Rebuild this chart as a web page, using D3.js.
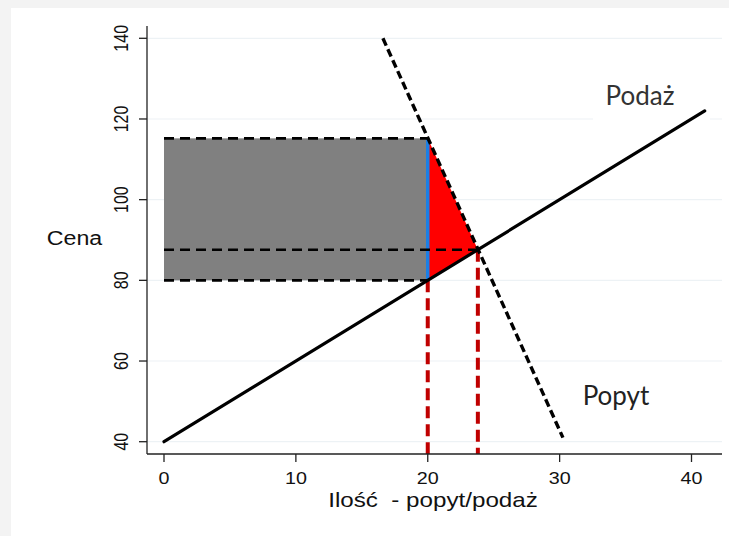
<!DOCTYPE html>
<html><head><meta charset="utf-8">
<script src="https://cdn.jsdelivr.net/npm/d3@7"></script>
<style>
html,body{margin:0;padding:0;background:#f3f3f3;}
svg{display:block;}
text{white-space:pre;}
</style></head>
<body>
<svg id="c" width="729" height="536"></svg>
<script>
// ---- data ----
const xTicks = [0, 10, 20, 30, 40];
const yTicks = [40, 60, 80, 100, 120, 140];
const supplyPts = [[0, 40], [41, 122]];          // Podaż
const demandPts = [[16.6, 140], [30.25, 41]];    // Popyt
const rectQ = [0, 20];
const rectP = [80, 115.2];
const eqQ = 23.8, eqP = 87.6;
const triangle = [[20, 115.2], [23.8, 87.6], [20, 80]];
const labels = {x: "Ilość  - popyt/podaż", y: "Cena", supply: "Podaż", demand: "Popyt"};

const svg = d3.select("#c");
svg.append("rect").attr("x", 11).attr("y", 8).attr("width", 729).attr("height", 536).attr("fill", "#fff");

const x = d3.scaleLinear().domain([0, 40]).range([164, 691.5]);
const y = d3.scaleLinear().domain([40, 140]).range([441.7, 38.3]);
const xL = 147, xR = 722, yT = 26, yB = 454;
const SX = 1.16; // horizontal stretch of the original picture's text

// gridlines
svg.append("g").selectAll("line").data(yTicks).join("line")
  .attr("x1", xL).attr("x2", xR).attr("y1", d => y(d)).attr("y2", d => y(d))
  .attr("stroke", "#edf2f5").attr("stroke-width", 1.2);

// label box for Podaż covers gridline
svg.append("rect").attr("x", 593).attr("y", 80).attr("width", 117).attr("height", 44).attr("fill", "#fff");

// gray rectangle
svg.append("rect").attr("x", x(rectQ[0])).attr("y", y(rectP[1]))
  .attr("width", x(rectQ[1]) - x(rectQ[0])).attr("height", y(rectP[0]) - y(rectP[1]))
  .attr("fill", "#808080");

const line = d3.line().x(d => x(d[0])).y(d => y(d[1]));

// red triangle
svg.append("path").attr("d", line(triangle) + "Z").attr("fill", "#ff0000");

// blue line
svg.append("path").attr("d", line([[20, rectP[0]], [20, rectP[1]]]))
  .attr("stroke", "#1a7fe6").attr("stroke-width", 3.5).attr("fill", "none");

// dashed horizontals
[[rectP[1], 20], [eqP, eqQ], [rectP[0], 20]].forEach(([p, q]) => {
  svg.append("path").attr("d", line([[0, p], [q, p]]))
    .attr("stroke", "#000").attr("stroke-width", 2.6).attr("fill", "none")
    .attr("stroke-dasharray", "10,6");
});

// red dashed verticals
[[20, 80], [eqQ, eqP]].forEach(([q, p]) => {
  svg.append("path").attr("d", `M${x(q)},${y(p)}L${x(q)},${yB}`)
    .attr("stroke", "#c00000").attr("stroke-width", 4).attr("fill", "none")
    .attr("stroke-dasharray", "12,6");
});

// supply
svg.append("path").attr("d", line(supplyPts))
  .attr("stroke", "#000").attr("stroke-width", 3.2).attr("fill", "none").attr("stroke-linecap", "round");
// demand
svg.append("path").attr("d", line(demandPts))
  .attr("stroke", "#000").attr("stroke-width", 3.4).attr("fill", "none")
  .attr("stroke-dasharray", "8,4");

// axes
const ax = svg.append("g").attr("stroke", "#222").attr("stroke-width", 1.3);
ax.append("line").attr("x1", xL).attr("x2", xL).attr("y1", yT).attr("y2", yB);
ax.append("line").attr("x1", xL).attr("x2", xR).attr("y1", yB).attr("y2", yB);
ax.selectAll(".yt").data(yTicks).join("line").attr("x1", xL - 8).attr("x2", xL)
  .attr("y1", d => y(d)).attr("y2", d => y(d));
ax.selectAll(".xt").data(xTicks).join("line").attr("y1", yB).attr("y2", yB + 8)
  .attr("x1", d => x(d)).attr("x2", d => x(d));

const font = "'Liberation Sans', Arial, sans-serif";
svg.append("g").selectAll("text").data(xTicks).join("text")
  .attr("transform", d => `translate(${x(d)},484) scale(${SX},1)`).attr("text-anchor", "middle")
  .attr("font-family", font).attr("font-size", 17).attr("fill", "#111").text(d => d);
svg.append("g").selectAll("text").data(yTicks).join("text")
  .attr("transform", d => `translate(128,${y(d)}) scale(1.25,1) rotate(-90)`).attr("text-anchor", "middle")
  .attr("font-family", font).attr("font-size", 16).attr("fill", "#111").text(d => d);

svg.append("text").attr("transform", `translate(433,507) scale(${SX + 0.02},1)`).attr("text-anchor", "middle")
  .attr("font-family", font).attr("font-size", 20.5).attr("fill", "#111").text(labels.x);
svg.append("text").attr("transform", `translate(74.5,245) scale(${SX},1)`).attr("text-anchor", "middle")
  .attr("font-family", font).attr("font-size", 20).attr("fill", "#111").text(labels.y);

svg.append("text").attr("x", 640).attr("y", 105).attr("text-anchor", "middle")
  .attr("font-family", "Lato, 'Open Sans', sans-serif").attr("font-size", 26).attr("fill", "#333").text(labels.supply);
svg.append("text").attr("x", 616).attr("y", 405).attr("text-anchor", "middle")
  .attr("font-family", "Lato, 'Open Sans', sans-serif").attr("font-size", 26).attr("fill", "#222").text(labels.demand);
</script>
</body></html>
